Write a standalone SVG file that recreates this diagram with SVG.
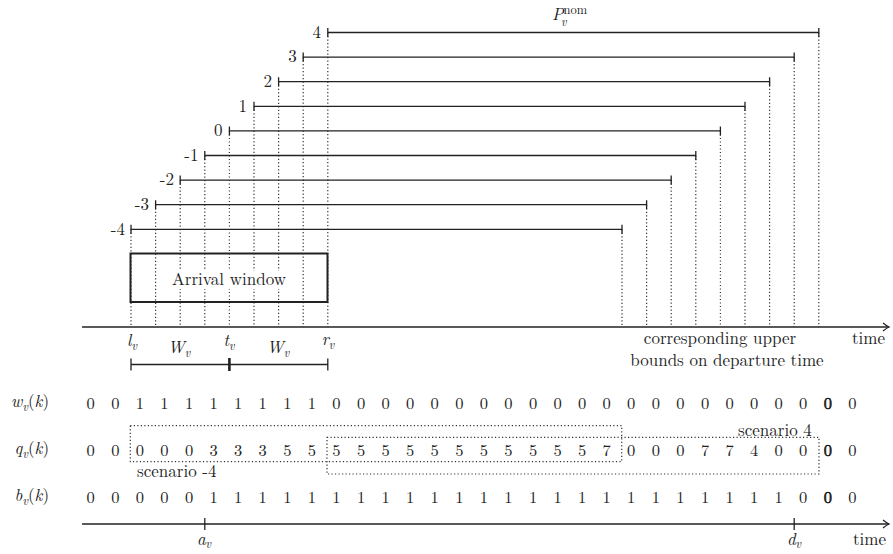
<svg xmlns="http://www.w3.org/2000/svg" width="893" height="554" viewBox="0 0 893 554" font-family="'Latin Modern Roman', 'Liberation Serif', serif">
<style>
.t{font-size:17px;fill:#222}
.mi{font-size:17px;font-style:italic;fill:#222}
.up{font-style:normal}
.sub{font-size:12px;font-style:italic}
.num{font-size:16.5px;fill:#222;text-anchor:middle}
.bold{stroke:#111;stroke-width:0.6}
.bar{stroke:#222;stroke-width:1.3;fill:none}
.dot{stroke:#333;stroke-width:1.2;stroke-dasharray:1.2 2.3;fill:none}
.axis{stroke:#222;stroke-width:1.6;fill:none}
</style>
<defs>
<marker id="arr" viewBox="-8 -5 10 10" refX="0" refY="0" markerWidth="10" markerHeight="10" orient="auto" markerUnits="userSpaceOnUse">
<path d="M-6,-4 Q-2,-0.8 0,0 Q-2,0.8 -6,4" fill="none" stroke="#222" stroke-width="1.3"/>
</marker>
</defs>

<g id="connectors">
<path class="dot" d="M131 229.3V327 M155.6 204.7V327 M180.2 180.1V327 M204.8 155.5V327 M229.4 130.9V327 M254 106.3V327 M278.6 81.7V327 M303.2 57.1V327 M327.8 32.5V327"/>
<path class="dot" d="M622 229.3V327 M646.6 204.7V327 M671.2 180.1V327 M695.8 155.5V327 M720.4 130.9V327 M745 106.3V327 M769.6 81.7V327 M794.2 57.1V327 M818.8 32.5V327"/>
<path class="axis" d="M82 327H889" marker-end="url(#arr)"/>
<path class="axis" d="M82 524H889" marker-end="url(#arr)"/>
<path class="bar" d="M204.8 518V530 M794.2 518V530"/>
<path class="bar" d="M131 364.5H327.8 M131 358.5V370.5 M327.8 358.5V370.5"/>
<path stroke="#222" stroke-width="2.6" d="M229.4 358V371"/>
</g>

<g id="bars">
<g id="bar-m4"><path class="bar" d="M131 224.8V233.8 M131 229.3H622 M622 224.8V233.8"/><text class="t" x="125" y="234.5" text-anchor="end">-4</text></g>
<g id="bar-m3"><path class="bar" d="M155.6 200.2V209.2 M155.6 204.7H646.6 M646.6 200.2V209.2"/><text class="t" x="149" y="209.9" text-anchor="end">-3</text></g>
<g id="bar-m2"><path class="bar" d="M180.2 175.6V184.6 M180.2 180.1H671.2 M671.2 175.6V184.6"/><text class="t" x="174" y="185.3" text-anchor="end">-2</text></g>
<g id="bar-m1"><path class="bar" d="M204.8 151V160 M204.8 155.5H695.8 M695.8 151V160"/><text class="t" x="198.5" y="160.7" text-anchor="end">-1</text></g>
<g id="bar-0"><path class="bar" d="M229.4 126.4V135.4 M229.4 130.9H720.4 M720.4 126.4V135.4"/><text class="t" x="222.5" y="136.1" text-anchor="end">0</text></g>
<g id="bar-1"><path class="bar" d="M254 101.8V110.8 M254 106.3H745 M745 101.8V110.8"/><text class="t" x="247" y="111.5" text-anchor="end">1</text></g>
<g id="bar-2"><path class="bar" d="M278.6 77.2V86.2 M278.6 81.7H769.6 M769.6 77.2V86.2"/><text class="t" x="272" y="86.9" text-anchor="end">2</text></g>
<g id="bar-3"><path class="bar" d="M303.2 52.6V61.6 M303.2 57.1H794.2 M794.2 52.6V61.6"/><text class="t" x="296.8" y="62.3" text-anchor="end">3</text></g>
<g id="bar-4"><path class="bar" d="M327.8 28V37 M327.8 32.5H818.8 M818.8 28V37"/><text class="t" x="321" y="37.7" text-anchor="end">4</text></g>
<g id="pnom"><text class="mi" x="552" y="20">P<tspan class="up" font-size="12.5" dy="-6">nom</tspan><tspan class="sub" x="561" dy="12">v</tspan></text></g>
</g>

<g id="arrival-window">
<rect x="130.5" y="253.5" width="197" height="48.5" fill="none" stroke="#222" stroke-width="2"/>
<rect x="170" y="271" width="118" height="18" fill="#fff"/>
<text class="t" x="229" y="285" text-anchor="middle">Arrival window</text>
</g>

<g id="axis-labels">
<text class="mi" x="132" y="346" text-anchor="middle">l<tspan class="sub" dy="4">v</tspan></text>
<text class="mi" x="229" y="346" text-anchor="middle">t<tspan class="sub" dy="4">v</tspan></text>
<text class="mi" x="328" y="345" text-anchor="middle">r<tspan class="sub" dy="4">v</tspan></text>
<text class="mi" x="179" y="353" text-anchor="middle">W<tspan class="sub" dy="4">v</tspan></text>
<text class="mi" x="278" y="353" text-anchor="middle">W<tspan class="sub" dy="4">v</tspan></text>
<text class="t" x="720" y="344" text-anchor="middle">corresponding upper</text>
<text class="t" x="727" y="366" text-anchor="middle">bounds on departure time</text>
<text class="t" x="852" y="344">time</text>
<text class="mi" x="204" y="545" text-anchor="middle">a<tspan class="sub" dy="3">v</tspan></text>
<text class="mi" x="794" y="545" text-anchor="middle">d<tspan class="sub" dy="3">v</tspan></text>
<text class="t" x="853" y="545">time</text>
</g>

<g id="row-labels">
<text class="mi" x="49" y="407" text-anchor="end">w<tspan class="sub" dy="4">v</tspan><tspan class="up" dy="-4">(</tspan>k<tspan class="up">)</tspan></text>
<text class="mi" x="49" y="454" text-anchor="end">q<tspan class="sub" dy="4">v</tspan><tspan class="up" dy="-4">(</tspan>k<tspan class="up">)</tspan></text>
<text class="mi" x="49" y="501" text-anchor="end">b<tspan class="sub" dy="4">v</tspan><tspan class="up" dy="-4">(</tspan>k<tspan class="up">)</tspan></text>
</g>

<g id="row-w">
<text class="num" y="409" x="90.7 115.3 139.8 164.4 189 213.6 238.1 262.7 287.3 311.8 336.4 361 385.5 410.1 434.7 459.3 483.8 508.4 533 557.5 582.1 606.7 631.2 655.8 680.4 705 729.5 754.1 778.7 803.2">001111111100000000000000000000</text>
<text class="num bold" x="827.8" y="409">0</text>
<text class="num" x="852.4" y="409">0</text>
</g>

<g id="row-q">
<rect x="130.3" y="425.7" width="491.4" height="36" class="dot"/>
<rect x="327" y="437.3" width="492" height="36.7" class="dot"/>
<text class="num" y="456" x="90.7 115.3 139.8 164.4 189 213.6 238.1 262.7 287.3 311.8 336.4 361 385.5 410.1 434.7 459.3 483.8 508.4 533 557.5 582.1 606.7 631.2 655.8 680.4 705 729.5 754.1 778.7 803.2">000003335555555555555700077400</text>
<text class="num bold" x="827.8" y="456">0</text>
<text class="num" x="852.4" y="456">0</text>
<text class="t" x="137" y="477">scenario -4</text>
<text class="t" x="738" y="436">scenario 4</text>
</g>

<g id="row-b">
<text class="num" y="503" x="90.7 115.3 139.8 164.4 189 213.6 238.1 262.7 287.3 311.8 336.4 361 385.5 410.1 434.7 459.3 483.8 508.4 533 557.5 582.1 606.7 631.2 655.8 680.4 705 729.5 754.1 778.7 803.2">000001111111111111111111111110</text>
<text class="num bold" x="827.8" y="503">0</text>
<text class="num" x="852.4" y="503">0</text>
</g>
</svg>
